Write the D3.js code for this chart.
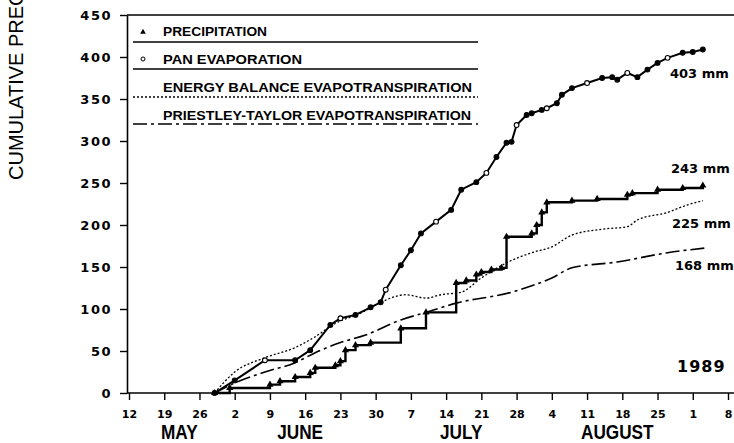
<!DOCTYPE html>
<html>
<head>
<meta charset="utf-8">
<script src="https://cdn.jsdelivr.net/npm/d3@7"></script>
<style>
  body { margin: 0; background: #fff; }
  svg { display: block; }
</style>
</head>
<body>
<svg id="chart" width="734" height="443"></svg>
<script>
// tick labels (weekly, 1989)
const weekTicks = ['05-12', '05-19', '05-26', '06-02', '06-09', '06-16', '06-23', '06-30',
  '07-07', '07-14', '07-21', '07-28', '08-04', '08-11', '08-18', '08-25', '09-01', '09-08'];
const monthNames = ['MAY', 'JUNE', 'JULY', 'AUGUST'];
const monthCenters = ['05-22', '06-15', '07-17', '08-17'];
const yTicks = [0, 50, 100, 150, 200, 250, 300, 350, 400, 450];

// precipitation (cumulative mm after each rain)
const precipDates = ['05-29', '06-01', '06-09', '06-11', '06-14', '06-17', '06-18', '06-22', '06-23',
  '06-24', '06-26', '06-29', '07-05', '07-10', '07-16', '07-18', '07-20', '07-21', '07-23', '07-25',
  '07-26', '07-31', '08-01', '08-02', '08-03', '08-08', '08-13', '08-19', '08-20', '08-25', '08-30', '09-03'];
const precipMm = [0, 6, 10, 14, 19, 24, 30, 33, 38, 51, 57, 60, 77, 96, 131, 134, 141, 144, 147, 149,
  186, 190, 200, 215, 227, 229, 231, 236, 238, 242, 244, 247];

// pan evaporation
const panDates = ['05-29', '06-02', '06-08', '06-14', '06-17', '06-21', '06-23', '06-26', '06-29',
  '07-01', '07-02', '07-05', '07-07', '07-09', '07-12', '07-15', '07-17', '07-20', '07-22', '07-24',
  '07-26', '07-27', '07-28', '07-30', '07-31', '08-02', '08-03', '08-05', '08-06', '08-08', '08-11',
  '08-14', '08-16', '08-17', '08-19', '08-21', '08-23', '08-25', '08-27', '08-30', '09-01', '09-03'];
const panMm = [0, 15, 39, 39, 51, 81, 89, 93, 102, 108, 123, 152, 170, 190, 204, 218, 242, 251, 262, 281,
  298, 299, 319, 331, 333, 337, 339, 345, 355, 363, 369, 375, 376, 373, 381, 376, 385, 393, 399, 405, 406, 409];

// energy balance evapotranspiration
const ebDates = ['05-29', '06-02', '06-08', '06-14', '06-18', '06-22', '06-27', '07-01', '07-06',
  '07-10', '07-13', '07-17', '07-21', '07-26', '07-31', '08-04', '08-08', '08-14', '08-19', '08-21',
  '08-27', '08-31', '09-03'];
const ebMm = [0, 25, 42, 54, 67, 83, 95, 108, 117, 113, 117, 120, 137, 155, 167, 174, 188, 195, 198, 206,
  215, 224, 229];

// Priestley-Taylor evapotranspiration
const ptDates = ['05-29', '06-02', '06-08', '06-14', '06-18', '06-23', '06-28', '07-05', '07-10',
  '07-16', '07-27', '08-04', '08-08', '08-17', '08-27', '09-04'];
const ptMm = [0, 12, 25, 36, 48, 60, 69, 87, 96, 107, 120, 137, 149, 156, 167, 173];

const endLabels = ['403 mm', '243 mm', '225 mm', '168 mm'];
const legendNames = ['PRECIPITATION', 'PAN EVAPORATION', 'ENERGY BALANCE EVAPOTRANSPIRATION',
  'PRIESTLEY-TAYLOR EVAPOTRANSPIRATION'];

const parse = d3.timeParse('%Y-%m-%d');
const dt = s => parse('1989-' + s);

const svg = d3.select('#chart');
const bold = 'DejaVu Sans, sans-serif';

const x = d3.scaleTime()
  .domain([dt('05-12'), dt('09-08')])
  .range([129, 728]);
const y = d3.scaleLinear()
  .domain([0, 450])
  .range([393, 15]);

// frame: top line and axis extension to the right
svg.append('line')
  .attr('x1', 127).attr('x2', 734).attr('y1', 15).attr('y2', 15)
  .attr('stroke', '#000').attr('stroke-width', 1.6);
svg.append('line')
  .attr('x1', 127).attr('x2', 734).attr('y1', 393).attr('y2', 393)
  .attr('stroke', '#000').attr('stroke-width', 1.6);

// Y axis
const yAxis = svg.append('g')
  .attr('transform', 'translate(127,0)')
  .call(d3.axisLeft(y).tickValues(yTicks).tickSize(7).tickSizeOuter(0).tickPadding(8));
yAxis.select('.domain').attr('stroke-width', 1.6);
yAxis.selectAll('.tick line').attr('stroke-width', 1.4);
yAxis.selectAll('text')
  .attr('font-family', bold).attr('font-weight', 'bold')
  .attr('font-size', 13).attr('letter-spacing', 1.5).attr('fill', '#000');

// X axis
const xAxis = svg.append('g')
  .attr('transform', 'translate(0,393)')
  .call(d3.axisBottom(x).tickValues(weekTicks.map(dt)).tickSize(7).tickSizeOuter(0).tickPadding(10)
    .tickFormat(d3.timeFormat('%-d')));
xAxis.select('.domain').remove();
xAxis.selectAll('.tick line').attr('stroke-width', 1.4);
xAxis.selectAll('text')
  .attr('font-family', bold).attr('font-weight', 'bold')
  .attr('font-size', 11).attr('fill', '#000');

// month names (condensed)
svg.append('g').selectAll('text')
  .data(monthNames)
  .join('text')
  .attr('transform', (d, i) => `translate(${x(dt(monthCenters[i]))},439) scale(0.86,1)`)
  .attr('text-anchor', 'middle')
  .attr('font-family', 'Liberation Sans, Arial, sans-serif')
  .attr('font-weight', 'bold')
  .attr('font-size', 20)
  .text(d => d);

// y title (cut off at the top, as in the scan)
svg.append('text')
  .attr('transform', 'translate(23,180) rotate(-90)')
  .attr('font-family', 'Liberation Sans, Arial, sans-serif')
  .attr('font-size', 20)
  .text('CUMULATIVE PRECIPITATION AND EVAPOTRANSPIRATION (mm)');

// series
const line = (dates, vals, curve) => d3.line()
  .x((d, i) => x(dt(dates[i])))
  .y(d => y(d))
  .curve(curve)(vals);

svg.append('path')
  .attr('d', line(ptDates, ptMm, d3.curveMonotoneX))
  .attr('fill', 'none').attr('stroke', '#000').attr('stroke-width', 1.6)
  .attr('stroke-dasharray', '14,4,3,4');

svg.append('path')
  .attr('d', line(ebDates, ebMm, d3.curveMonotoneX))
  .attr('fill', 'none').attr('stroke', '#000').attr('stroke-width', 1.3)
  .attr('stroke-dasharray', '2,2');

svg.append('path')
  .attr('d', line(precipDates, precipMm, d3.curveStepAfter))
  .attr('fill', 'none').attr('stroke', '#000').attr('stroke-width', 2.4);
svg.append('g').selectAll('path')
  .data(precipMm)
  .join('path')
  .attr('transform', (d, i) => `translate(${x(dt(precipDates[i]))},${y(d)})`)
  .attr('d', d3.symbol(d3.symbolTriangle).size(22));

svg.append('path')
  .attr('d', line(panDates, panMm, d3.curveLinear))
  .attr('fill', 'none').attr('stroke', '#000').attr('stroke-width', 2);
svg.append('g').selectAll('circle')
  .data(panMm)
  .join('circle')
  .attr('cx', (d, i) => x(dt(panDates[i])))
  .attr('cy', d => y(d))
  .attr('r', 2.4)
  .attr('fill', (d, i) => i % 4 === 2 ? '#fff' : '#000')
  .attr('stroke', '#000').attr('stroke-width', 1.1);

// end labels
const labelPos = [[670, 78], [671, 173], [672, 228], [675, 270]];
svg.append('g').selectAll('text')
  .data(endLabels)
  .join('text')
  .attr('x', (d, i) => labelPos[i][0])
  .attr('y', (d, i) => labelPos[i][1])
  .attr('font-family', bold).attr('font-weight', 'bold')
  .attr('font-size', 13)
  .text(d => d);

svg.append('text')
  .attr('x', 677).attr('y', 372)
  .attr('font-family', bold).attr('font-weight', 'bold')
  .attr('font-size', 16).attr('letter-spacing', 1)
  .text('1989');

// legend
const legRowY = [36, 64, 92, 120];
const legLineY = [42, 69, 97, 124];
const legWidths = [104, 139, 309, 308];
const legDash = [null, null, '2,2', '14,4,3,4'];
const leg = svg.append('g');
legendNames.forEach((name, i) => {
  leg.append('text')
    .attr('x', 163).attr('y', legRowY[i])
    .attr('font-family', 'Liberation Sans, Arial, sans-serif')
    .attr('font-weight', 'bold')
    .attr('font-size', 13.5)
    .attr('textLength', legWidths[i])
    .attr('lengthAdjust', 'spacingAndGlyphs')
    .text(name);
  leg.append('line')
    .attr('x1', 133).attr('x2', 478).attr('y1', legLineY[i]).attr('y2', legLineY[i])
    .attr('stroke', '#000').attr('stroke-width', i === 2 ? 1.3 : 1.6)
    .attr('stroke-dasharray', legDash[i]);
});
leg.append('path')
  .attr('transform', 'translate(143,32)')
  .attr('d', d3.symbol(d3.symbolTriangle).size(14));
leg.append('circle')
  .attr('cx', 143).attr('cy', 59).attr('r', 2)
  .attr('fill', '#fff').attr('stroke', '#000').attr('stroke-width', 1);
</script>
</body>
</html>
